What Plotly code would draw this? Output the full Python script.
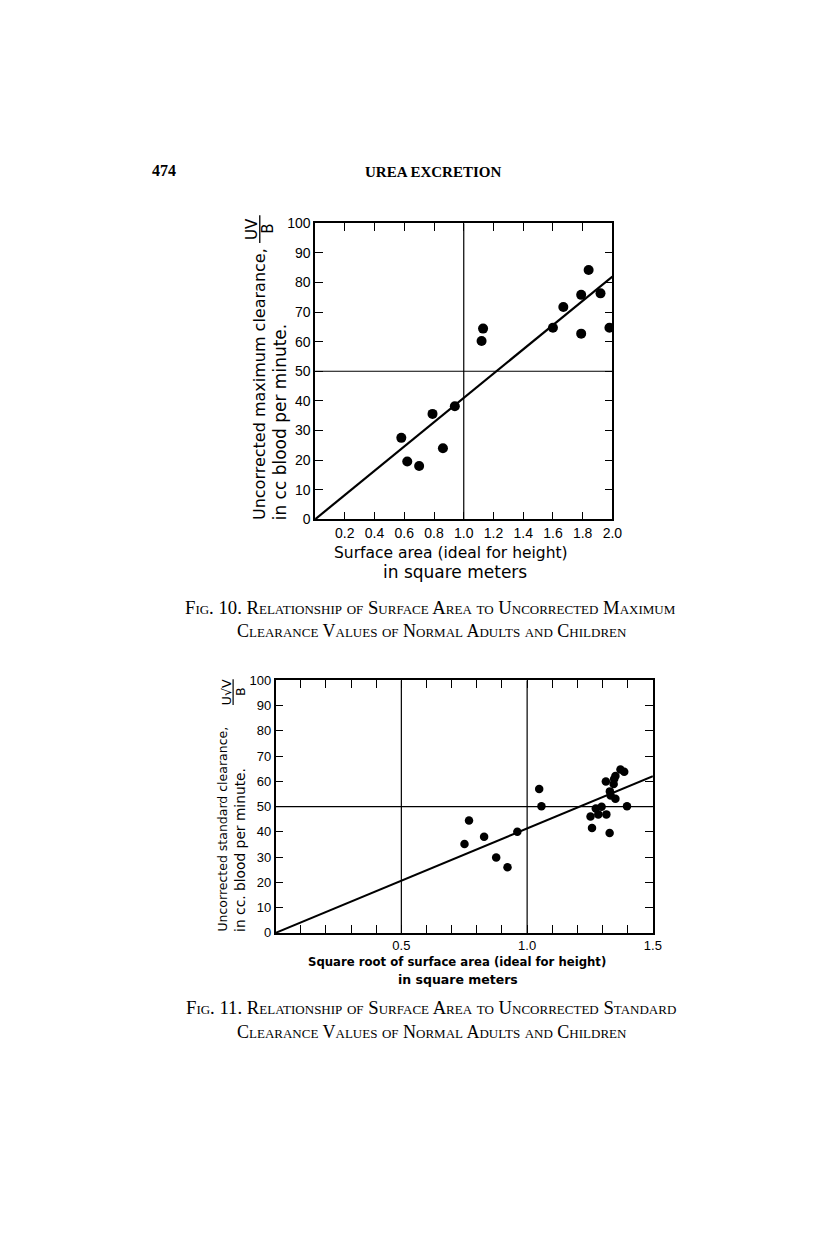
import plotly.graph_objects as go

W, H = 816, 1238

# ---- Fig. 10 data: surface area vs uncorrected maximum clearance
fig10_area = [0.58, 0.62, 0.70, 0.79, 0.86, 0.94, 1.12, 1.13, 1.60, 1.67,
              1.79, 1.79, 1.84, 1.92, 1.98]
fig10_clear = [27.5, 19.5, 18.0, 35.6, 24.0, 38.2, 60.2, 64.4, 64.7, 71.7,
               75.8, 62.7, 84.2, 76.3, 64.7]
fig10_fit_x = [0.0, 2.0]
fig10_fit_y = [0.0, 82.0]
fig10_xticks = [0.2, 0.4, 0.6, 0.8, 1.0, 1.2, 1.4, 1.6, 1.8, 2.0]
fig10_xlabels = ['0.2', '0.4', '0.6', '0.8', '1.0', '1.2', '1.4', '1.6', '1.8', '2.0']

# ---- Fig. 11 data: sqrt surface area vs uncorrected standard clearance
fig11_root = [0.751, 0.769, 0.829, 0.877, 0.922, 0.961, 1.048, 1.057, 1.252,
              1.258, 1.273, 1.283, 1.296, 1.313, 1.315, 1.328, 1.329, 1.332,
              1.344, 1.346, 1.351, 1.351, 1.371, 1.386, 1.397]
fig11_clear = [35.2, 44.5, 38.0, 29.8, 26.0, 40.0, 56.9, 50.1, 46.1, 41.5,
               49.2, 46.9, 49.9, 59.9, 46.9, 39.5, 56.0, 54.4, 58.9, 60.9,
               62.1, 53.1, 64.7, 63.8, 50.1]
fig11_fit_x = [0.0, 1.5]
fig11_fit_y = [0.0, 62.0]
fig11_xticks = [0.1, 0.2, 0.3, 0.4, 0.5, 0.6, 0.7, 0.8, 0.9, 1.0,
                1.1, 1.2, 1.3, 1.4, 1.5]
fig11_xlabels = ['', '', '', '', '0.5', '', '', '', '', '1.0',
                 '', '', '', '', '1.5']

yticks = list(range(0, 101, 10))


def px(x):
    return x / W


def py(y):
    return 1 - y / H


TICKFONT = dict(family='Liberation Sans Narrow, Liberation Sans, sans-serif', size=14, color='black')
HAND = 'DejaVu Sans, sans-serif'
SERIF = 'Liberation Serif, Times New Roman, serif'

fig = go.Figure()

fig.add_trace(go.Scatter(x=fig10_fit_x, y=fig10_fit_y, mode='lines',
                         line=dict(color='black', width=2.2),
                         xaxis='x', yaxis='y', hoverinfo='skip'))
fig.add_trace(go.Scatter(x=fig10_area, y=fig10_clear, mode='markers',
                         marker=dict(color='black', size=10),
                         xaxis='x', yaxis='y'))

fig.add_trace(go.Scatter(x=fig11_fit_x, y=fig11_fit_y, mode='lines',
                         line=dict(color='black', width=2),
                         xaxis='x2', yaxis='y2', hoverinfo='skip'))
fig.add_trace(go.Scatter(x=fig11_root, y=fig11_clear, mode='markers',
                         marker=dict(color='black', size=8.5),
                         xaxis='x2', yaxis='y2'))

axis_common = dict(showline=True, linecolor='black', linewidth=1.5, mirror='allticks',
                   ticks='inside', ticklen=8, tickwidth=1.3, tickcolor='black',
                   showgrid=False, zeroline=False, tickfont=TICKFONT, fixedrange=True)

fig.update_layout(
    width=W, height=H,
    margin=dict(l=0, r=0, t=0, b=0),
    paper_bgcolor='white', plot_bgcolor='white',
    showlegend=False,
    xaxis=dict(axis_common, domain=[px(319), px(620)], range=[0, 2.0],
               tickvals=fig10_xticks, ticktext=fig10_xlabels, anchor='y'),
    yaxis=dict(axis_common, domain=[py(518), py(218)], range=[0, 100],
               tickvals=yticks, anchor='x'),
    xaxis2=dict(axis_common, domain=[px(279), px(661)], range=[0, 1.5],
                tickvals=fig11_xticks, ticktext=fig11_xlabels, anchor='y2',
                tickfont=dict(TICKFONT, size=13)),
    yaxis2=dict(axis_common, domain=[py(937), py(681)], range=[0, 100],
                tickvals=yticks, anchor='x2', tickfont=dict(TICKFONT, size=13)),
)

# reference lines
ref = dict(type='line', line=dict(color='black', width=1.2))
fig.add_shape(ref, xref='x', yref='y', x0=1.0, x1=1.0, y0=0, y1=100)
fig.add_shape(ref, xref='x', yref='y', x0=0, x1=2.0, y0=50, y1=50)
fig.add_shape(ref, xref='x2', yref='y2', x0=0.5, x1=0.5, y0=0, y1=100)
fig.add_shape(ref, xref='x2', yref='y2', x0=1.0, x1=1.0, y0=0, y1=100)
fig.add_shape(ref, xref='x2', yref='y2', x0=0, x1=1.5, y0=50, y1=50)


def note(text, x, y, size, family=HAND, xanchor='center', yanchor='middle',
         angle=0, weight='normal', variant='normal'):
    fig.add_annotation(text=text, x=px(x), y=py(y), xref='paper', yref='paper',
                       showarrow=False, xanchor=xanchor, yanchor=yanchor,
                       textangle=angle,
                       font=dict(family=family, size=size, color='black',
                                 weight=weight, variant=variant))


# page header
note('474', 152, 165, 16, family=SERIF, xanchor='left', weight='bold')
note('UREA EXCRETION', 438, 166, 15, family=SERIF, weight='bold')

# Fig. 10 axis titles
note('Uncorrected maximum clearance,', 262, 521, 16, angle=-90, yanchor='bottom')
note('in cc blood per minute.', 283, 521, 17, angle=-90, yanchor='bottom')
note('UV', 255, 224, 15, angle=-90)
note('B', 271, 224, 15, angle=-90)
fig.add_shape(type='line', xref='paper', yref='paper', x0=px(263), x1=px(263),
              y0=py(210), y1=py(238), line=dict(color='black', width=1.3))
note('Surface area (ideal for height)', 457, 552, 15.5)
note('in square meters', 461, 571, 17)

note('Fig. 10. Relationship of Surface Area to Uncorrected Maximum',
     436, 607, 18.7, family=SERIF, variant='small-caps')
note('Clearance Values of Normal Adults and Children',
     437, 631, 18, family=SERIF, variant='small-caps')

# Fig. 11 axis titles
note('Uncorrected standard clearance,', 225, 938, 12.5, angle=-90, yanchor='bottom')
note('in cc. blood per minute.', 243, 938, 13.8, angle=-90, yanchor='bottom')
note('U√V', 229, 693, 12.5, angle=-90)
note('B', 243, 693, 12.5, angle=-90)
fig.add_shape(type='line', xref='paper', yref='paper', x0=px(236), x1=px(236),
              y0=py(680), y1=py(706), line=dict(color='black', width=1.2))
note('Square root of surface area (ideal for height)', 463, 966, 11.7, weight='bold')
note('in square meters', 464, 984, 12.5, weight='bold')

note('Fig. 11. Relationship of Surface Area to Uncorrected Standard',
     436, 1013, 18.7, family=SERIF, variant='small-caps')
note('Clearance Values of Normal Adults and Children',
     437, 1037, 18, family=SERIF, variant='small-caps')

fig.write_html('out.html', config={'displayModeBar': False},
               post_script="document.body.style.margin='0';"
                           "document.body.style.overflow='hidden';")
